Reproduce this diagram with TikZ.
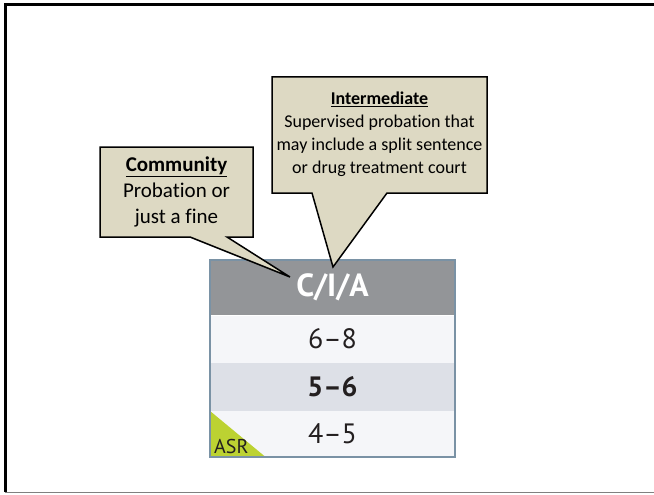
\documentclass[tikz,border=0pt]{standalone}
\usepackage{fontspec}
\setmainfont{Carlito}[Ligatures={TeX,NoCommon}]
\newfontfamily\tablefont{PT Sans}
\usepackage{tikz}

\definecolor{calloutfill}{HTML}{DDD9C3}
\definecolor{headgray}{HTML}{939598}
\definecolor{rowlight}{HTML}{F5F6F9}
\definecolor{rowdark}{HTML}{DDE0E7}
\definecolor{tableedge}{HTML}{7A92A5}
\definecolor{asrgreen}{HTML}{BCD232}
\definecolor{asrtext}{HTML}{231F20}

\begin{document}
\begin{tikzpicture}[x=1pt, y=-1pt,
	callout/.style={draw=black, line width=1.5pt, fill=calloutfill, line join=miter},
	row/.style={minimum width=245pt, minimum height=48pt, inner sep=0pt, text=asrtext,
		font=\tablefont\fontsize{28}{30}\selectfont}]
	\useasboundingbox (0,0) rectangle (654,495);

	% frame
	\draw[line width=3pt] (5,492) -- (5,4.5) -- (654,4.5);
	\draw[gray, line width=1pt] (5,492.5) -- (654,492.5);

	% table
	\node[row, fill=headgray, minimum height=55pt, text=white,
		font=\tablefont\bfseries\fontsize{32}{34}\selectfont] (head) at (332.5,287.5) {C/I/A};
	\node[row, fill=rowlight] (high) at (332.5,339) {6–8};
	\node[row, fill=rowdark] (mid) at (332.5,387) {\bfseries 5–6};
	\node[row, fill=rowlight, minimum height=46pt] (low) at (332.5,434) {4–5};
	\draw[white, line width=1pt] (head.south west) -- (head.south east);
	\fill[asrgreen] (low.north west) -- (low.south west) -- ([xshift=56pt]low.south west) -- cycle;
	\node[anchor=base west, inner sep=0pt, text=asrtext,
		font=\tablefont\fontsize{20}{22}\selectfont] (asr) at (214,453) {ASR};
	\draw[tableedge, line width=2.5pt] (head.north west) rectangle (low.south east);

	% callouts
	\draw[callout] (100,147) -- (253,147) -- (253,237) -- (227,237) -- (290,277) -- (190,237) -- (100,237) -- cycle;
	\node[align=center, font=\fontsize{21}{26}\selectfont] (community) at (176.5,192)
		{\textbf{\underline{Community}}\\Probation or\\just a fine};

	\draw[callout] (272,77) -- (487,77) -- (487,193) -- (387,193) -- (333,267) -- (312,193) -- (272,193) -- cycle;
	\node[align=center, font=\fontsize{18}{23}\selectfont] (intermediate) at (379.5,134)
		{\textbf{\underline{Intermediate}}\\Supervised probation that\\may include a split sentence\\or drug treatment court};
\end{tikzpicture}
\end{document}
